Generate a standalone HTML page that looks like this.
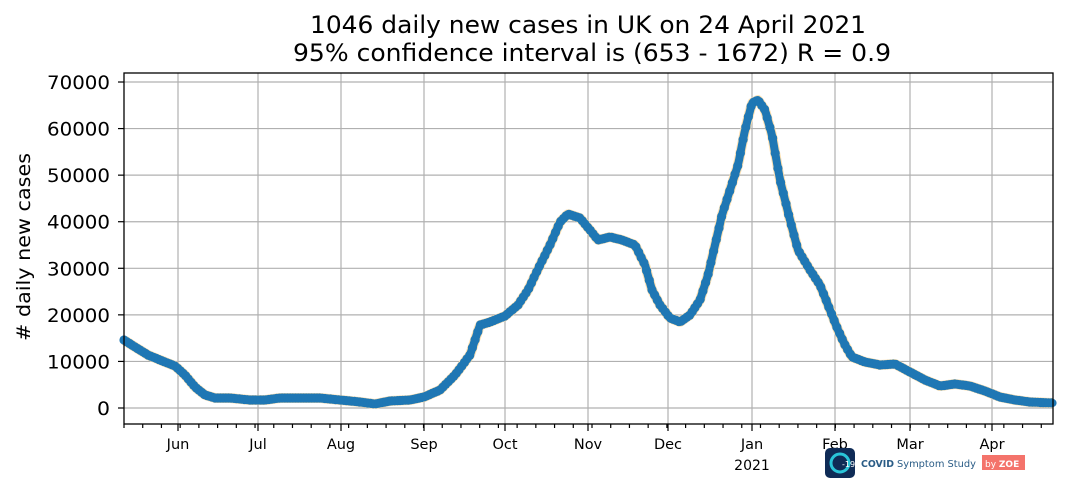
<!DOCTYPE html>
<html><head><meta charset="utf-8"><style>
html,body{margin:0;padding:0;background:#fff;width:1069px;height:489px;overflow:hidden}
svg text{font-family:"DejaVu Sans","Liberation Sans",sans-serif;fill:#000}
</style></head><body>
<svg id="s" width="1069" height="489" xmlns="http://www.w3.org/2000/svg">
<text x="588" y="33" font-size="24" text-anchor="middle" textLength="556" lengthAdjust="spacingAndGlyphs">1046 daily new cases in UK on 24 April 2021</text>
<text x="592" y="61" font-size="24" text-anchor="middle" textLength="598" lengthAdjust="spacingAndGlyphs">95% confidence interval is (653 - 1672) R = 0.9</text>
<text transform="translate(30,247) rotate(-90)" font-size="19" text-anchor="middle" textLength="188" lengthAdjust="spacingAndGlyphs"># daily new cases</text>
<g id="grid" stroke="#b0b0b0" stroke-width="1.2"></g>
<g id="band"></g>
<g id="pts" fill="#1f77b4"></g>
<rect x="124" y="73" width="929" height="351" fill="none" stroke="#000" stroke-width="1.3"/>
<g id="ticks" stroke="#000" stroke-width="1.2"></g>
<g id="labels"></g>
<text x="752" y="470" font-size="14" text-anchor="middle">2021</text>
<g>
<rect x="825" y="448" width="30" height="30" rx="5" fill="#0f2b56"/>
<circle cx="840" cy="463" r="9" fill="none" stroke="#29c4d8" stroke-width="3"/>
<text x="842" y="467" font-size="8" style="fill:#fff">-19</text>
<text x="861" y="467" font-size="10" font-weight="bold" style="fill:#2a5c86" textLength="33" lengthAdjust="spacingAndGlyphs">COVID</text>
<text x="897" y="467" font-size="10" style="fill:#2a5c86" textLength="79" lengthAdjust="spacingAndGlyphs">Symptom Study</text>
<rect x="982" y="455" width="43" height="15" fill="#f4736b"/>
<text x="985" y="467" font-size="9" style="fill:#fff">by <tspan font-weight="bold">ZOE</tspan></text>
</g>
</svg>
<script>
const NS="http://www.w3.org/2000/svg";
function el(p,t,a,txt){const e=document.createElementNS(NS,t);for(const k in a)e.setAttribute(k,a[k]);if(txt)e.textContent=txt;document.getElementById(p).appendChild(e);return e;}
const months=[[178,"Jun"],[258,"Jul"],[341,"Aug"],[424,"Sep"],[505,"Oct"],[588,"Nov"],[668,"Dec"],[752,"Jan"],[835,"Feb"],[910,"Mar"],[992,"Apr"]];
months.forEach(([x,l])=>{el("grid","line",{x1:x,x2:x,y1:73,y2:424});el("ticks","line",{x1:x,x2:x,y1:424,y2:431});el("labels","text",{x:x,y:449,"font-size":14.5,"text-anchor":"middle"},l);});
for(let i=0;i<=7;i++){const y=408-i*46.57;el("grid","line",{x1:124,x2:1053,y1:y,y2:y});el("ticks","line",{x1:118,x2:124,y1:y,y2:y});el("labels","text",{x:110,y:y+7,"font-size":19,"text-anchor":"end",textLength:i?63:13,lengthAdjust:"spacingAndGlyphs"},String(i*10000));}
for(let x=124;x<1053;x+=18.72){el("ticks","line",{x1:x,x2:x,y1:424,y2:428});}
const k=[[124,340],[135,347],[148,355],[160,360],[175,366],[185,375],[195,387],[205,395],[215,398],[230,398],[250,400],[265,400],[280,398],[300,398],[320,398],[340,400],[360,402],[375,404],[390,401],[410,400],[424,397],[440,390],[455,375],[470,355],[480,325],[490,322],[505,316],[518,305],[528,290],[540,265],[550,245],[560,222],[568,214],[580,218],[590,230],[598,240],[610,237],[622,240],[635,245],[645,265],[652,290],[660,305],[670,318],[680,322],[690,315],[700,300],[708,275],[715,245],[722,215],[730,190],[738,165],[745,130],[752,103],[758,100],[765,110],[772,135],[780,180],[790,220],[798,250],[810,270],[820,285],[830,310],[838,330],[845,345],[852,357],[865,362],[880,365],[895,364],[910,372],[925,380],[940,386],[955,384],[970,386],[985,391],[1000,397],[1015,400],[1030,402],[1053,403]];
function f(x){for(let i=0;i<k.length-1;i++){if(x<=k[i+1][0]){const t=(x-k[i][0])/(k[i+1][0]-k[i][0]);return k[i][1]+t*(k[i+1][1]-k[i][1]);}}return k[k.length-1][1];}
let d="";for(let x=124;x<=1053;x+=1.34){d+=(d?"L":"M")+x.toFixed(1)+" "+f(x).toFixed(1);}
el("band","path",{d:d,fill:"none",stroke:"#fde0b0","stroke-width":10,"stroke-linejoin":"round"});
el("band","path",{d:d,fill:"none",stroke:"#1f77b4","stroke-width":8,"stroke-linejoin":"round","stroke-linecap":"round"});
for(let x=124;x<=1053;x+=2.68){el("pts","circle",{cx:x.toFixed(1),cy:f(x).toFixed(1),r:4.6});}
</script>
</body></html>
